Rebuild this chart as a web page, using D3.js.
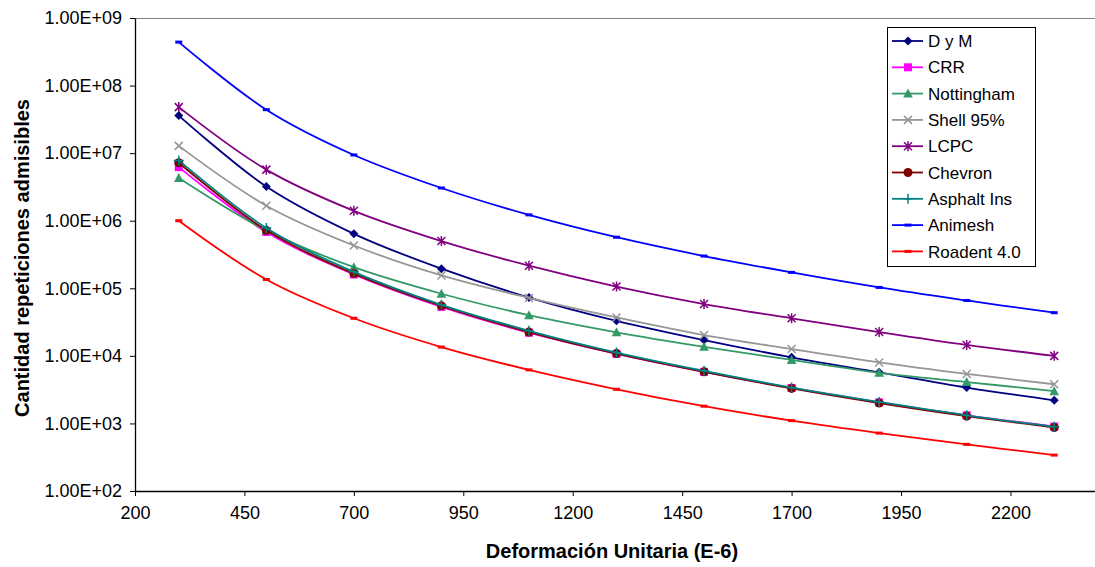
<!DOCTYPE html>
<html>
<head>
<meta charset="utf-8">
<script src="https://cdn.jsdelivr.net/npm/d3@7"></script>
<style>
  body { margin: 0; background: #fff; }
  text { font-family: Arial, "Liberation Sans", sans-serif; }
</style>
</head>
<body>
<div id="chart"></div>
<script>
// strain values (E-6)
var strain = [300, 500, 700, 900, 1100, 1300, 1500, 1700, 1900, 2100, 2300];

var seriesNames = ["D y M", "CRR", "Nottingham", "Shell 95%", "LCPC", "Chevron", "Asphalt Ins", "Animesh", "Roadent 4.0"];

var dym        = [3.6e7, 3.2e6, 6.4e5, 1.95e5, 7.3e4, 3.3e4, 1.71e4, 9.5e3, 5.7e3, 3.4e3, 2.2e3];
var crr        = [6.2e6, 6.8e5, 1.6e5, 5.3e4, 2.2e4, 1.07e4, 5.8e3, 3.35e3, 2.05e3, 1.32e3, 900];
var nottingham = [4.3e6, 7.2e5, 2.05e5, 8.3e4, 4.0e4, 2.23e4, 1.36e4, 8.7e3, 5.6e3, 4.1e3, 3.0e3];
var shell      = [1.28e7, 1.67e6, 4.3e5, 1.55e5, 7.2e4, 3.7e4, 2.03e4, 1.26e4, 8.0e3, 5.4e3, 3.8e3];
var lcpc       = [4.8e7, 5.7e6, 1.4e6, 5.0e5, 2.16e5, 1.06e5, 5.85e4, 3.6e4, 2.25e4, 1.45e4, 1.0e4];
var chevron    = [7.2e6, 7.2e5, 1.65e5, 5.5e4, 2.25e4, 1.08e4, 5.8e3, 3.3e3, 2.0e3, 1.28e3, 870];
var asphalt    = [7.8e6, 7.8e5, 1.75e5, 5.7e4, 2.35e4, 1.12e4, 6.0e3, 3.4e3, 2.08e3, 1.32e3, 890];
var animesh    = [4.4e8, 4.4e7, 9.4e6, 3.05e6, 1.22e6, 5.7e5, 3.0e5, 1.72e5, 1.03e5, 6.6e4, 4.35e4];
var roadent    = [1.0e6, 1.35e5, 3.6e4, 1.35e4, 6.2e3, 3.2e3, 1.8e3, 1.1e3, 720, 490, 340];

var xTicks = [200, 450, 700, 950, 1200, 1450, 1700, 1950, 2200];
var yTicks = [1e2, 1e3, 1e4, 1e5, 1e6, 1e7, 1e8, 1e9];

var allValues = [dym, crr, nottingham, shell, lcpc, chevron, asphalt, animesh, roadent];
var colors = ["#000080", "#FF00FF", "#339966", "#969696", "#800080", "#800000", "#008080", "#0000FF", "#FF0000"];
var markers = ["diamond", "square", "triangle", "x", "star", "circle", "plus", "dash", "dash"];

var svgWidth = 1095, svgHeight = 567;
var margin = {top: 18, left: 135, right: -3, bottom: 76};
var chartWidth = svgWidth - margin.left - margin.right;
var chartHeight = svgHeight - margin.top - margin.bottom;

var svg = d3.select("#chart")
            .append("svg")
            .attr("width", svgWidth)
            .attr("height", svgHeight);

var chartGroup = svg.append("g")
                    .attr("transform", `translate(${margin.left},${margin.top})`);

var xScale = d3.scaleLinear().domain([200, 2400]).range([0, chartWidth]);
var yScale = d3.scaleLog().domain([1e2, 1e9]).range([chartHeight, 0]);

// plot frame (top / right in gray)
chartGroup.append("path")
    .attr("d", `M0,0.5H${chartWidth}V${chartHeight}`)
    .attr("fill", "none")
    .attr("stroke", "#808080")
    .attr("stroke-width", 1);

var yAxis = d3.axisLeft(yScale)
    .tickValues(yTicks)
    .tickSizeOuter(0)
    .tickSizeInner(5)
    .tickFormat(d => d.toExponential(2).toUpperCase().replace(/E\+(\d)$/, "E+0$1"));

var xAxis = d3.axisBottom(xScale)
    .tickValues(xTicks)
    .tickSizeOuter(0)
    .tickSizeInner(5)
    .tickFormat(d3.format("d"));

var yG = chartGroup.append("g").call(yAxis);
var xG = chartGroup.append("g").attr("transform", `translate(0,${chartHeight})`).call(xAxis);

[yG, xG].forEach(function(g) {
    g.select(".domain").attr("stroke", "#000").attr("stroke-width", 1.3);
    g.selectAll(".tick line").attr("stroke", "#000");
    g.selectAll(".tick text")
        .attr("fill", "#000")
        .style("font-size", "18px")
        .style("font-family", "Arial, 'Liberation Sans', sans-serif");
});
yG.selectAll(".tick text").attr("x", -13);
xG.selectAll(".tick text").attr("y", 15);

// marker drawing
function drawMarker(g, type, color) {
    if (type === "diamond") {
        g.append("path").attr("d", "M0,-4.5L4.5,0L0,4.5L-4.5,0Z").attr("fill", color);
    } else if (type === "square") {
        g.append("rect").attr("x", -4).attr("y", -4).attr("width", 8).attr("height", 8).attr("fill", color);
    } else if (type === "triangle") {
        g.append("path").attr("d", "M0,-5L4.8,4L-4.8,4Z").attr("fill", color);
    } else if (type === "circle") {
        g.append("circle").attr("r", 4.5).attr("fill", color);
    } else if (type === "x") {
        g.append("path").attr("d", "M-4,-4L4,4M-4,4L4,-4").attr("stroke", color).attr("stroke-width", 1.5);
    } else if (type === "star") {
        g.append("path").attr("d", "M-4,-4L4,4M-4,4L4,-4M0,-5V5").attr("stroke", color).attr("stroke-width", 1.5);
    } else if (type === "plus") {
        g.append("path").attr("d", "M-5,0H5M0,-5V5").attr("stroke", color).attr("stroke-width", 1.5);
    } else if (type === "dash") {
        g.append("rect").attr("x", -3.5).attr("y", -1.5).attr("width", 7).attr("height", 3).attr("fill", color);
    }
}

var line = d3.line()
    .x((d, i) => xScale(strain[i]))
    .y(d => yScale(d))
    .curve(d3.curveCatmullRom.alpha(0.5));

allValues.forEach(function(vals, s) {
    var g = chartGroup.append("g");
    g.append("path")
        .attr("d", line(vals))
        .attr("fill", "none")
        .attr("stroke", colors[s])
        .attr("stroke-width", 1.8);
    vals.forEach(function(v, i) {
        var m = g.append("g").attr("transform", `translate(${xScale(strain[i])},${yScale(v)})`);
        drawMarker(m, markers[s], colors[s]);
    });
});

// legend
var legend = svg.append("g").attr("transform", "translate(887,27)");
legend.append("rect")
    .attr("x", 0.5).attr("y", 0.5)
    .attr("width", 148).attr("height", 239)
    .attr("fill", "#fff")
    .attr("stroke", "#000");

seriesNames.forEach(function(name, s) {
    var yy = 14 + s * 26.3;
    var row = legend.append("g").attr("transform", `translate(0,${yy})`);
    row.append("line")
        .attr("x1", 5).attr("x2", 36)
        .attr("stroke", colors[s]).attr("stroke-width", 1.8);
    drawMarker(row.append("g").attr("transform", "translate(21,0)"), markers[s], colors[s]);
    row.append("text")
        .attr("x", 41).attr("y", 0).attr("dy", "0.36em")
        .style("font-size", "17px")
        .text(name);
});

// axis titles
svg.append("text")
    .attr("x", 612).attr("y", 558)
    .attr("text-anchor", "middle")
    .style("font-size", "20px").style("font-weight", "bold")
    .text("Deformación Unitaria (E-6)");

svg.append("text")
    .attr("transform", "rotate(-90)")
    .attr("x", -258).attr("y", 29)
    .attr("text-anchor", "middle")
    .style("font-size", "20px").style("font-weight", "bold")
    .text("Cantidad repeticiones admisibles");
</script>
</body>
</html>
